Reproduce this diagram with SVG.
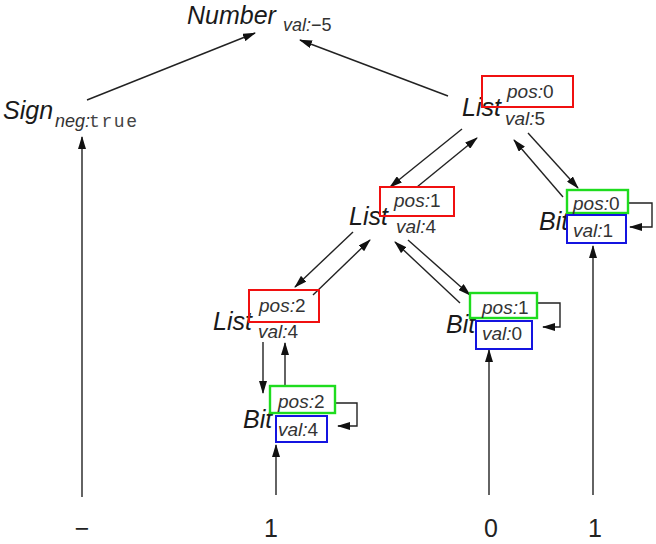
<svg xmlns="http://www.w3.org/2000/svg" width="656" height="544" viewBox="0 0 656 544">
<defs>
<marker id="ah" markerUnits="userSpaceOnUse" markerWidth="13" markerHeight="8" refX="12" refY="4" orient="auto">
<path d="M0,0 L13,4 L0,8 Z" fill="#111"/>
</marker>
<style>
.e{stroke:#222;stroke-width:1.4;fill:none;marker-end:url(#ah)}
.n{font-family:"Liberation Sans",Arial,sans-serif;font-style:italic;font-size:25px;fill:#1a1a1a}
.s{font-family:"Liberation Sans",Arial,sans-serif;font-style:italic;font-size:19px;fill:#333}
.d{font-style:normal}
.m{font-family:"Liberation Mono","DejaVu Sans Mono",monospace;font-size:18px;fill:#444;letter-spacing:1.6px}
.b{font-family:"Liberation Sans",Arial,sans-serif;font-size:25px;fill:#222;text-anchor:middle}
.r{fill:none;stroke:#f01010;stroke-width:2}
.g{fill:#fff;stroke:#1edc1e;stroke-width:2.4}
.u{fill:#fff;stroke:#1414e0;stroke-width:2}
</style>
</defs>
<g id="connectors">
<line class="e" x1="87" y1="100" x2="255" y2="33"/>
<line class="e" x1="448" y1="96" x2="300" y2="40"/>
<line class="e" x1="82" y1="497" x2="82" y2="137"/>
<line class="e" x1="462" y1="129" x2="390" y2="187"/>
<line class="e" x1="417" y1="187" x2="477" y2="138"/>
<line class="e" x1="563" y1="197" x2="514" y2="140"/>
<line class="e" x1="528" y1="133" x2="578" y2="188"/>
<path class="e" d="M628,203 H652 V227 H630"/>
<line class="e" x1="593" y1="495" x2="593" y2="246"/>
<line class="e" x1="353" y1="232" x2="295" y2="287"/>
<line class="e" x1="313" y1="295" x2="370" y2="240"/>
<line class="e" x1="460" y1="303" x2="395" y2="242"/>
<line class="e" x1="408" y1="240" x2="470" y2="295"/>
<path class="e" d="M537,303 H560 V327 H543"/>
<line class="e" x1="489" y1="495" x2="489" y2="350"/>
<line class="e" x1="263" y1="342" x2="263" y2="393"/>
<line class="e" x1="285" y1="390" x2="285" y2="343"/>
<path class="e" d="M335,403 H357 V426 H338"/>
<line class="e" x1="276" y1="495" x2="276" y2="445"/>
</g>
<g id="number">
<text class="n" x="187" y="24">Number</text>
<text class="s" x="283" y="31" style="font-size:18px">val:<tspan class="d">−5</tspan></text>
</g>
<g id="sign">
<text class="n" x="3" y="119">Sign</text>
<text class="s" x="55" y="127" style="font-size:18px">neg:</text>
<text class="m" x="89" y="127">true</text>
</g>
<g id="list0">
<text class="n" x="462" y="116">List</text>
<text class="s" x="505" y="125">val:<tspan class="d">5</tspan></text>
<rect class="r" x="482" y="76" width="91" height="31"/>
<text class="s" x="507" y="98">pos:<tspan class="d">0</tspan></text>
</g>
<g id="list1">
<text class="n" x="349" y="225">List</text>
<text class="s" x="396" y="233">val:<tspan class="d">4</tspan></text>
<rect class="r" x="380" y="187" width="74" height="29"/>
<text class="s" x="394" y="207">pos:<tspan class="d">1</tspan></text>
</g>
<g id="list2">
<text class="n" x="213" y="330">List</text>
<text class="s" x="258" y="338">val:<tspan class="d">4</tspan></text>
<rect class="r" x="249" y="290" width="70" height="32"/>
<text class="s" x="259" y="312">pos:<tspan class="d">2</tspan></text>
</g>
<g id="bit0">
<text class="n" x="539" y="230">Bit</text>
<rect class="g" x="567" y="190" width="61" height="23"/>
<text class="s" x="573" y="210">pos:<tspan class="d">0</tspan></text>
<rect class="u" x="567" y="215" width="59" height="28"/>
<text class="s" x="573" y="237">val:<tspan class="d">1</tspan></text>
</g>
<g id="bit1">
<text class="n" x="446" y="333">Bit</text>
<rect class="g" x="470" y="293" width="67" height="25"/>
<text class="s" x="482" y="314">pos:<tspan class="d">1</tspan></text>
<rect class="u" x="476" y="321" width="56" height="28"/>
<text class="s" x="482" y="340">val:<tspan class="d">0</tspan></text>
</g>
<g id="bit2">
<text class="n" x="243" y="428">Bit</text>
<rect class="g" x="270" y="386" width="65" height="27"/>
<text class="s" x="278" y="408">pos:<tspan class="d">2</tspan></text>
<rect class="u" x="276" y="416" width="51" height="26"/>
<text class="s" x="278" y="436">val:<tspan class="d">4</tspan></text>
</g>
<g id="tokens">
<text class="b" x="82" y="537">−</text>
<text class="b" x="271" y="537">1</text>
<text class="b" x="491" y="537">0</text>
<text class="b" x="595" y="537">1</text>
</g>
</svg>
